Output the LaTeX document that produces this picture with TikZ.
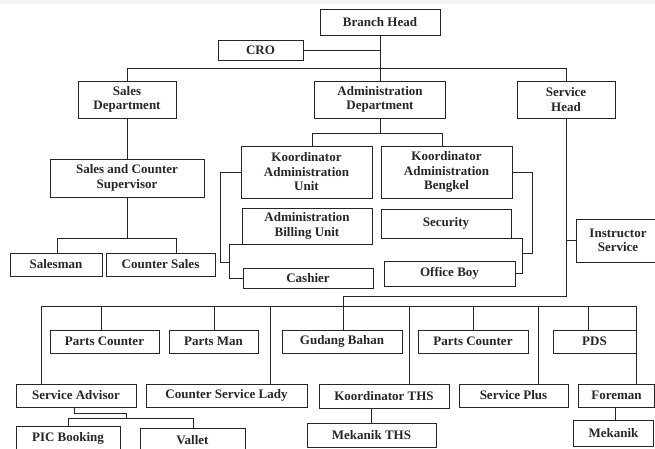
\documentclass[tikz,border=0pt]{standalone}
\usepackage{fontspec}
\setmainfont{Liberation Serif}
\begin{document}
\begin{tikzpicture}[x=1pt,y=-1pt,
  box/.style={draw=black!85, line width=1pt, inner sep=0pt, align=center,
    font=\bfseries\fontsize{13}{14.5}\selectfont, text=black!85},
  ln/.style={draw=black!85, line width=1pt}]
\useasboundingbox (0,0) rectangle (655,448);
\clip (0,0) rectangle (655,448);
\fill[black!4] (0,0) rectangle (655,4);
% top
\node[box,minimum width=120pt,minimum height=26pt] (bh) at (380,22) {Branch Head};
\node[box,minimum width=85pt,minimum height=20pt] (cro) at (260.5,50) {CRO};
\node[box,minimum width=98pt,minimum height=37pt] (sd) at (127,99.5) {Sales\\Department};
\node[box,minimum width=131pt,minimum height=37pt] (ad) at (380,99.5) {Administration\\Department};
\node[box,minimum width=98pt,minimum height=37pt] (sh) at (566,99.5) {Service\\Head};
% sales
\node[box,minimum width=154pt,minimum height=38pt] (scs) at (127,178) {Sales and Counter\\Supervisor};
\node[box,minimum width=92pt,minimum height=23pt] (sm) at (56,264.5) {Salesman};
\node[box,minimum width=109pt,minimum height=23pt] (cs) at (160.5,264.5) {Counter Sales};
% administration
\node[box,minimum width=131pt,minimum height=52pt] (kau) at (306.5,172) {Koordinator\\Administration\\Unit};
\node[box,minimum width=131pt,minimum height=52pt] (kab) at (446.5,172) {Koordinator\\Administration\\Bengkel};
\node[box,minimum width=130pt,minimum height=36pt] (abu) at (307,226) {Administration\\Billing Unit};
\node[box,minimum width=130pt,minimum height=29pt] (sec) at (446,223.5) {Security};
\node[box,minimum width=130pt,minimum height=20pt] (cash) at (308,278) {Cashier};
\node[box,minimum width=131pt,minimum height=25pt] (ob) at (449.5,273.5) {Office Boy};
\node[box,minimum width=84pt,minimum height=43pt] (is) at (618,240.5) {Instructor\\Service};
% service row 1
\node[box,minimum width=109pt,minimum height=23pt] (pc1) at (104.5,341.5) {Parts Counter};
\node[box,minimum width=89pt,minimum height=23pt] (pm) at (213.5,341.5) {Parts Man};
\node[box,minimum width=120pt,minimum height=23pt] (gb) at (342,341.5) {Gudang Bahan};
\node[box,minimum width=110pt,minimum height=23pt] (pc2) at (473,341.5) {Parts Counter};
\node[box,minimum width=83pt,minimum height=23pt] (pds) at (594.5,341.5) {PDS};
% service row 2
\node[box,minimum width=120pt,minimum height=23pt] (sa) at (76,395.5) {Service Advisor};
\node[box,minimum width=161pt,minimum height=23pt] (csl) at (226.5,395.5) {Counter Service Lady};
\node[box,minimum width=130pt,minimum height=24pt] (kths) at (384,396) {Koordinator THS};
\node[box,minimum width=109pt,minimum height=23pt] (sp) at (513.5,395.5) {Service Plus};
\node[box,minimum width=76pt,minimum height=23pt] (fm) at (616.5,395.5) {Foreman};
% service row 3
\node[box,minimum width=104pt,minimum height=24pt] (pic) at (68,438) {PIC Booking};
\node[box,minimum width=105pt,minimum height=24pt] (val) at (192.5,440) {Vallet};
\node[box,minimum width=129pt,minimum height=24pt] (mths) at (371.5,435) {Mekanik THS};
\node[box,minimum width=80pt,minimum height=26pt] (mek) at (613.5,433) {Mekanik};
% connectors: top
\coordinate (b1) at (0,68);
\draw[ln] (bh.south) -- (bh.south |- ad.north);
\draw[ln] (cro.east) -- (cro.east -| bh.south);
\draw[ln] (sd.north) -- (sd.north |- b1) -- (sh.north |- b1) -- (sh.north);
% sales
\draw[ln] (sd.south) -- (scs.north);
\coordinate (b2) at (0,238);
\coordinate (sm1) at (57,238);
\coordinate (cs1) at (176,238);
\draw[ln] (scs.south) -- (scs.south |- b2);
\draw[ln] (sm1 |- sm.north) -- (sm1) -- (cs1) -- (cs1 |- cs.north);
% administration
\coordinate (a1) at (312,133);
\coordinate (a2) at (442,133);
\draw[ln] (ad.south) -- (ad.south |- a1);
\draw[ln] (a1 |- kau.north) -- (a1) -- (a2) -- (a2 |- kab.north);
\coordinate (lb) at (230,262);
\draw[ln] (kau.west) -- ++(-20,0) |- (lb);
\draw[ln] (abu.south west) -- ++(-12,0) |- (cash.west);
\coordinate (rb) at (522,253);
\draw[ln] (kab.east) -- ++(20,0) |- (rb);
\draw[ln] (sec.south east) -- ++(11,0) |- (ob.east);
% service
\coordinate (s1) at (343,296);
\coordinate (b4) at (0,306);
\draw[ln] (sh.south) |- (s1) -- (s1 |- b4);
\draw[ln] (is.west) -- (is.west -| sh.south);
\coordinate (bl) at (41,306);
\coordinate (br) at (636,306);
\draw[ln] (bl) -- (br);
\foreach \x/\n in {41/sa,101/pc1,214/pm,270/csl,343/gb,409/kths,473/pc2,538/sp,588/pds,636/fm}{
  \coordinate (t) at (\x,306);
  \draw[ln] (t) -- (t |- \n.north);
}
\coordinate (v1) at (126,413);
\coordinate (v2) at (68,418);
\coordinate (v3) at (193,418);
\draw[ln] ([xshift=-2pt]sa.south) |- (v1) -- (v1 |- v2);
\draw[ln] (pic.north) -- (pic.north |- v2) -- (v3) -- (v3 |- val.north);
\draw[ln] (mths.north) -- (mths.north |- kths.south);
\draw[ln] ([xshift=1.5pt]mek.north) -- ([xshift=1.5pt]mek.north |- fm.south);
\end{tikzpicture}
\end{document}
